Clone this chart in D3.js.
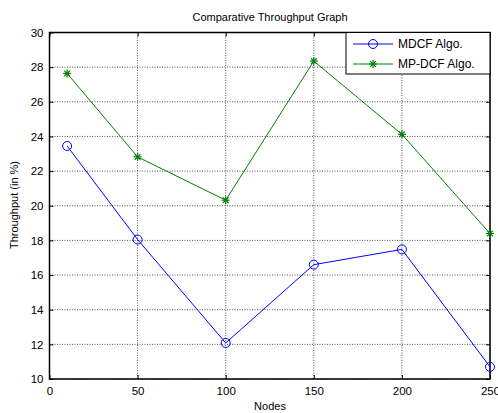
<!DOCTYPE html>
<html><head><meta charset="utf-8">
<script src="https://cdn.jsdelivr.net/npm/d3@7/dist/d3.min.js"></script>
<style>body{margin:0;background:#fff}svg{display:block}text{font-family:"Liberation Sans",Arial,sans-serif}</style>
</head><body>
<svg id="c" width="498" height="413"></svg>
<script>
const nodes = [10, 50, 100, 150, 200, 250];
const mdcf = [23.45, 18.05, 12.08, 16.6, 17.48, 10.7];
const mpdcf = [27.64, 22.82, 20.32, 28.35, 24.12, 18.4];
const xTicks = [0, 50, 100, 150, 200, 250];
const yTicks = [10, 12, 14, 16, 18, 20, 22, 24, 26, 28, 30];
const seriesNames = ["MDCF Algo.", "MP-DCF Algo."];
const colors = ["#0000ff", "#008000"];

const svg = d3.select("#c");
const L = 49.5, R = 490, T = 32.5, B = 379;
const x = d3.scaleLinear().domain([0, 250]).range([L, R]);
const y = d3.scaleLinear().domain([10, 30]).range([B, T]);

svg.append("rect").attr("width", 498).attr("height", 413).attr("fill", "#fff");

// grid
const g = svg.append("g");
xTicks.forEach(t => g.append("line").attr("x1", x(t)).attr("x2", x(t)).attr("y1", T).attr("y2", B)
  .attr("stroke", "#555").attr("stroke-width", 1).attr("stroke-dasharray", "1,1.5"));
yTicks.forEach(t => g.append("line").attr("x1", L).attr("x2", R).attr("y1", y(t)).attr("y2", y(t))
  .attr("stroke", "#555").attr("stroke-width", 1).attr("stroke-dasharray", "1,1.5"));

// axes
const xa = svg.append("g").attr("transform", `translate(0,${B})`)
  .call(d3.axisBottom(x).tickValues(xTicks).tickSizeInner(-4).tickSizeOuter(0).tickPadding(8));
const xt = svg.append("g").attr("transform", `translate(0,${T})`)
  .call(d3.axisTop(x).tickValues(xTicks).tickSizeInner(-4).tickSizeOuter(0).tickFormat(""));
const ya = svg.append("g").attr("transform", `translate(${L},0)`)
  .call(d3.axisLeft(y).tickValues(yTicks).tickSizeInner(-4).tickSizeOuter(0).tickPadding(6));
const yr = svg.append("g").attr("transform", `translate(${R},0)`)
  .call(d3.axisRight(y).tickValues(yTicks).tickSizeInner(-4).tickSizeOuter(0).tickFormat(""));
[xa, xt, ya, yr].forEach(a => {
  a.select(".domain").remove();
  a.selectAll("line").attr("stroke", "#000");
  a.selectAll("text").attr("font-size", 11.5).attr("fill", "#000").attr("font-family", '"Liberation Sans",Arial,sans-serif');
});
svg.append("rect").attr("x", L).attr("y", T).attr("width", R - L).attr("height", B - T)
  .attr("fill", "none").attr("stroke", "#000").attr("stroke-width", 1.5);

const line = d3.line().x((d, i) => x(nodes[i])).y(d => y(d));
function star(sel, cx, cy, c) {
  const r = 4;
  for (let k = 0; k < 4; k++) {
    const a = k * Math.PI / 4;
    sel.append("line").attr("x1", cx - r * Math.cos(a)).attr("y1", cy - r * Math.sin(a))
      .attr("x2", cx + r * Math.cos(a)).attr("y2", cy + r * Math.sin(a)).attr("stroke", c).attr("stroke-width", 1.2);
  }
}
[mdcf, mpdcf].forEach((s, si) => {
  svg.append("path").datum(s).attr("d", line).attr("fill", "none").attr("stroke", colors[si]).attr("stroke-width", 1);
  s.forEach((v, i) => {
    if (si === 0) svg.append("circle").attr("cx", x(nodes[i])).attr("cy", y(v)).attr("r", 4.5)
      .attr("fill", "none").attr("stroke", colors[si]).attr("stroke-width", 1);
    else star(svg, x(nodes[i]), y(v), colors[si]);
  });
});

// legend
const lg = svg.append("g");
lg.append("rect").attr("x", 346).attr("y", 32.5).attr("width", 144).attr("height", 41.5)
  .attr("fill", "#fff").attr("stroke", "#000").attr("stroke-width", 1);
seriesNames.forEach((n, i) => {
  const yy = 44 + i * 20;
  lg.append("line").attr("x1", 353).attr("x2", 393).attr("y1", yy).attr("y2", yy).attr("stroke", colors[i]);
  if (i === 0) lg.append("circle").attr("cx", 373).attr("cy", yy).attr("r", 4.5).attr("fill", "none").attr("stroke", colors[i]);
  else star(lg, 373, yy, colors[i]);
  lg.append("text").attr("x", 398).attr("y", yy + 4).attr("font-size", 12).text(n);
});

svg.append("text").attr("x", 270).attr("y", 21).attr("text-anchor", "middle").attr("font-size", 11).text("Comparative Throughput Graph");
svg.append("text").attr("x", 270).attr("y", 410).attr("text-anchor", "middle").attr("font-size", 11).text("Nodes");
svg.append("text").attr("transform", "translate(18,205) rotate(-90)").attr("text-anchor", "middle").attr("font-size", 11).text("Throughput (in %)");
</script>
</body></html>
